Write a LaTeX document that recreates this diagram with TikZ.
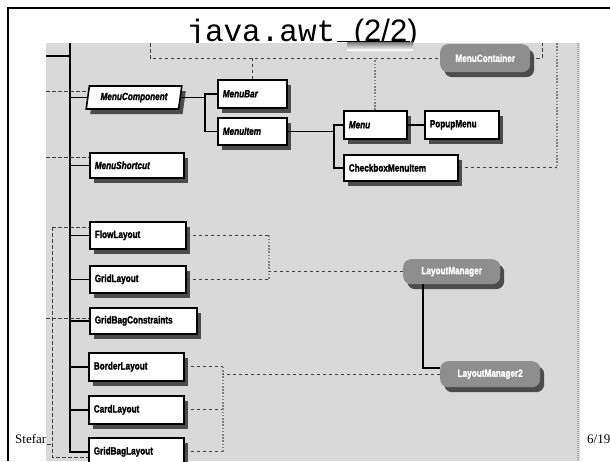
\documentclass[tikz,border=0pt]{standalone}
\usepackage{fontspec}
\setmainfont{Liberation Serif}
\newfontfamily\boxfont[FakeStretch=0.78,FakeBold=1.6]{Liberation Sans}
\newfontfamily\headsans{Liberation Sans}
\newfontfamily\headmono{Liberation Mono}
\usetikzlibrary{shapes.geometric,shadows,calc}

\definecolor{imgbg}{HTML}{D9D9D9}
\definecolor{ifacefill}{HTML}{8E8E8E}
\definecolor{shade}{HTML}{4C4C4C}

\tikzset{
  link/.style={draw=black, line width=1.6pt},
  dashline/.style={draw=black!75, line width=0.9pt, dash pattern=on 3.5pt off 2.5pt},
  dotline/.style={draw=black!50, line width=1.8pt, dash pattern=on 1.6pt off 1.6pt},
  edgeline/.style={draw=black!35, line width=2pt, dash pattern=on 1pt off 1pt},
  boxshadow/.style={drop shadow={shadow xshift=4pt, shadow yshift=-5pt, fill=shade, opacity=1}},
  clsbox/.style={draw=black, line width=1.6pt, fill=white, anchor=north west,
    inner xsep=5pt, inner ysep=0pt, align=left, boxshadow,
    font=\boxfont\bfseries\fontsize{10.5}{11}\selectfont},
  ifbox/.style={fill=ifacefill, rounded corners=8pt, anchor=north west,
    inner xsep=5pt, inner ysep=0pt, align=center, text=white,
    drop shadow={shadow xshift=4pt, shadow yshift=-5pt, fill=shade, opacity=1},
    font=\boxfont\bfseries\fontsize{10.5}{11}\selectfont},
}

\begin{document}
\begin{tikzpicture}[x=1pt,y=-1pt]
\useasboundingbox (0,0) rectangle (610,461);

% slide frame, title and footer
\coordinate (frameTL) at (8,8.3);
\coordinate (frameTR) at (610,8.3);
\coordinate (frameBL) at (8,461);
\draw[line width=2.2pt] (frameTR) -- (frameTL) -- (frameBL);
\node[anchor=base, inner sep=0pt] (title) at (302,41)
  {\headmono\fontsize{31}{31}\selectfont java.awt \headsans(2/2)};
\node[anchor=base west, inner sep=0pt, font=\fontsize{13}{13}\selectfont] (author) at (15,443) {Stefan};
\node[anchor=base west, inner sep=0pt, font=\fontsize{13}{13}\selectfont] (page) at (587,443) {6/19};

% class diagram panel
\fill[imgbg] (46,43) rectangle (580,461);
\coordinate (capL) at (337,41.5);
\coordinate (capR) at (410,41.5);
\fill[shade] (347,42.5) rectangle (413,50);
\draw[line width=1.8pt] (capL) -- (capR);

% classes
\node[trapezium, trapezium left angle=76, trapezium right angle=104,
  trapezium stretches=true, minimum width=96pt, minimum height=23pt,
  draw=black, line width=1.6pt, fill=white, inner sep=0pt, boxshadow,
  font=\boxfont\bfseries\fontsize{10.5}{11}\selectfont] (mc) at (134,97.5) {\itshape MenuComponent};
\node[clsbox, text width=59pt, minimum height=28pt] (mbar) at (217,79) {\itshape MenuBar};
\node[clsbox, text width=59pt, minimum height=27pt] (mitem) at (217,117) {\itshape MenuItem};
\node[clsbox, text width=53pt, minimum height=28pt] (menu) at (343,110) {\itshape Menu};
\node[clsbox, text width=64pt, minimum height=28pt] (popup) at (424,110) {PopupMenu};
\node[clsbox, text width=104pt, minimum height=26pt] (cbmi) at (343,154) {CheckboxMenuItem};
\node[clsbox, text width=84pt, minimum height=25pt] (ms) at (89,152) {\itshape MenuShortcut};
\node[clsbox, text width=86pt, minimum height=27pt] (flow) at (89,221) {FlowLayout};
\node[clsbox, text width=86pt, minimum height=27pt] (grid) at (89,265) {GridLayout};
\node[clsbox, text width=97pt, minimum height=26pt] (gbc) at (89,307) {GridBagConstraints};
\node[clsbox, text width=85pt, minimum height=28pt] (bl) at (88,352) {BorderLayout};
\node[clsbox, text width=85pt, minimum height=28pt] (cl) at (88,395) {CardLayout};
\node[clsbox, text width=85pt, minimum height=28pt] (gbl) at (88,437) {GridBagLayout};

% interfaces
\node[ifbox, text width=80pt, minimum height=28pt] (mcont) at (440,44) {MenuContainer};
\node[ifbox, text width=87pt, minimum height=25pt] (lm) at (403,259) {LayoutManager};
\node[ifbox, text width=90pt, minimum height=26pt] (lm2) at (440,361) {LayoutManager2};

% inheritance tree
\coordinate (spinetop) at (70,43);
\coordinate (stub) at (46,56);
\draw[link] (stub) -- (stub -| spinetop);
\draw[link] (spinetop) |- (gbl.west);
\foreach \n in {mc,ms,flow,grid,gbc,bl,cl}
  \draw[link] (spinetop |- \n.west) -- (\n.west);
\coordinate (fork1) at (205,0);
\draw[link] (mc.east) -- (mc.east -| fork1);
\draw[link] (mbar.west) -| (fork1 |- mitem.west) -- (mitem.west);
\coordinate (fork2) at (334,0);
\draw[link] (mitem.east) -- (mitem.east -| fork2);
\draw[link] (menu.west) -| (fork2 |- cbmi.west) -- (cbmi.west);
\draw[link] (menu) -- (popup);
\coordinate (fork3) at (423,0);
\draw[link] (lm.south -| fork3) |- ($(lm2.west)+(0,-6)$);

% interface relations
\coordinate (topdrop) at (150,43);
\draw[dashline] (topdrop) |- (mcont.west);
\draw[dashline] (mbar.north) -- (mbar.north |- mcont.west);
\draw[dotline] (menu.north) -- (menu.north |- mcont.west);
\coordinate (rise) at (542,43);
\draw[dashline] (mcont.east) -| (rise);
\coordinate (rdrop) at (557,43);
\draw[dotline] (rdrop) -- (rdrop |- cbmi.east);
\draw[dashline] (cbmi.east) -- (cbmi.east -| rdrop);
\coordinate (edgetop) at (578,43);
\coordinate (edgebot) at (578,461);
\draw[edgeline] (edgetop) -- (edgebot);

\coordinate (in1) at (46,91);
\draw[dashline] (in1) -- (in1 -| mc.west);
\coordinate (in2) at (46,157);
\draw[dashline] (in2) -- (in2 -| ms.west);
\coordinate (in3) at (46,318);
\draw[dashline] (in3) -- (in3 -| gbc.west);
\coordinate (lv) at (52,227);
\coordinate (lvb) at (52,457);
\draw[dashline] (lv) -- (lvb) -- (lvb -| gbl.west);
\draw[dashline] (lv) -- (lv -| flow.west);
\draw[dashline] ($(grid.west)+(0,3.5)$) -- ($(grid.west)+(0,3.5)$ -| lv);
\draw[dashline] ($(gbc.west)+(0,6)$) -- ($(gbc.west)+(0,6)$ -| lv);
\draw[dashline] ($(bl.west)+(0,6)$) -- ($(bl.west)+(0,6)$ -| lv);
\draw[dashline] ($(cl.west)+(0,4)$) -- ($(cl.west)+(0,4)$ -| lv);
\coordinate (in4) at (47,444);
\draw[dashline] (in4) -- (in4 -| lv);

\coordinate (r1) at (269,0);
\draw[dashline] (flow.east) -- (flow.east -| r1);
\draw[dashline] (grid.east) -- (grid.east -| r1);
\draw[dotline] (flow.east -| r1) -- (grid.east -| r1);
\draw[dashline] (lm.west) -- (lm.west -| r1);
\coordinate (r2) at (223,0);
\draw[dashline] (bl.east) -- (bl.east -| r2);
\draw[dashline] (cl.east) -- (cl.east -| r2);
\draw[dashline] (gbl.east) -- (gbl.east -| r2);
\draw[dotline] (bl.east -| r2) -- (gbl.east -| r2);
\draw[dashline] (lm2.west) -- (lm2.west -| r2);
\end{tikzpicture}
\end{document}
